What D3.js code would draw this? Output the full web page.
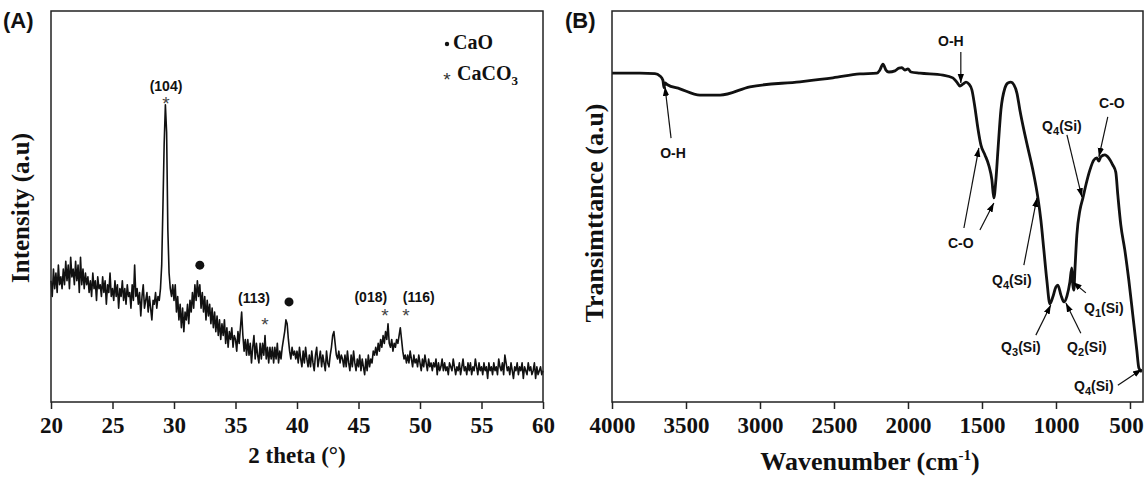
<!DOCTYPE html>
<html><head><meta charset="utf-8">
<script src="https://cdn.jsdelivr.net/npm/d3@7"></script>
<style>body{margin:0;background:#fff}</style>
</head><body>
<svg id="c" width="1146" height="480"></svg>
<script>
// ---------- DATA ----------
// XRD scan: 2-theta from 20 to 60 deg, evenly spaced
const xrdStart = 20, xrdEnd = 60;
const xrdIntensity = [
 31,27,34,29,33,28,35,30,32,29,
 34,30,36,31,35,29,37,32,34,30,
 36,31,35,28,37,30,34,29,33,30,
 32,28,31,27,33,29,31,26,32,29,
 30,27,32,28,31,25,30,28,33,27,
 29,26,31,27,30,24,29,27,31,26,
 29,25,30,27,28,24,30,26,35,27,
 29,25,28,22,27,30,24,26,28,23,
 27,24,21,26,25,28,24,27,26,29,
 35,50,66,76,69,44,33,29,27,30,
 26,30,23,27,21,25,19,24,18,23,
 21,25,20,26,23,28,24,30,26,31,
 27,30,24,28,23,27,21,26,22,25,
 20,24,19,23,18,22,17,21,16,20,
 17,21,15,19,14,18,16,19,14,17,
 16,13,18,15,19,23,17,13,16,12,
 16,12,15,10,14,17,11,15,12,10,
 15,11,15,12,17,11,14,10,14,11,
 14,10,14,11,15,10,13,11,14,16,
 18,21,20,16,13,11,14,12,13,11,
 13,10,14,11,9,13,10,14,11,9,
 12,9,13,10,8,12,14,9,11,13,
 9,12,10,8,13,10,9,12,14,17,
 18,15,12,11,13,10,12,11,9,12,
 9,13,10,8,12,9,13,10,8,11,
 9,12,8,11,9,7,11,8,12,9,
 11,10,13,12,14,12,15,13,16,14,
 17,15,18,16,20,15,14,16,13,15,
 14,16,15,17,19,16,13,11,12,10,
 12,10,13,11,9,12,10,11,9,12,
 10,8,11,9,12,10,8,11,9,10,
 8,10,9,11,7,10,8,9,11,8,
 10,8,9,7,10,9,8,11,9,7,
 9,8,10,7,9,11,8,9,7,10,
 8,10,7,9,8,11,9,7,10,8,
 9,7,10,8,9,6,10,8,9,7,
 10,8,9,7,11,9,8,10,7,12,
 10,8,9,7,10,8,6,9,8,10,
 7,9,8,10,6,9,8,7,10,8,
 9,7,8,10,6,9,7,8,9,7,
 8
];
const xrdTicks = [20,25,30,35,40,45,50,55,60];

// hkl labels (2theta, intensity)
const hklText  = ["(104)","(113)","(018)","(116)"];
const hklTheta = [29.35, 36.5, 46.0, 49.9];
const hklLevel = [80.8, 26.6, 26.9, 26.9];
// CaCO3 markers
const starTheta = [29.35, 37.4, 47.15, 48.85];
const starLevel = [77.6, 21.0, 23.3, 23.3];
// CaO markers
const dotTheta = [32.1, 39.35];
const dotLevel = [35.0, 25.6];

// FTIR spectrum
const ftirWavenumber = [4000,3811,3710,3676,3656,3649,3642,3628,3541,3406,3270,3068,2730,2507,2325,
 2210,2190,2169,2149,2129,2088,2061,2041,2021,2000,1980,1919,1764,1697,1670,1649,1629,1608,1588,1568,
 1548,1528,1507,1480,1453,1433,1420,1406,1392,1372,1345,1325,1305,1284,1264,1244,1217,1190,1156,1122,
 1102,1082,1062,1041,1021,1001,987,967,946,926,906,893,886,879,872,859,838,818,798,771,744,724,710,697,
 670,643,616,596,582,562,535,508,481,454,440,420];
const ftirTransmittance = [84.1,84.1,84.0,83.4,82.3,80.4,81.6,81.2,80.1,78.5,78.5,80.6,81.9,82.9,83.9,
 84.1,84.9,86.4,84.9,84.4,84.7,85.4,85.5,84.9,85.2,84.4,84.1,83.6,82.9,81.8,80.8,81.3,81.8,81.3,79.8,
 75.4,70.1,65.7,63.2,60.4,56.8,52.2,56.8,64.5,74.7,80.3,81.6,81.8,81.1,79.0,74.7,69.6,65.0,59.3,52.2,
 46.5,38.9,31.2,25.1,26.9,29.4,29.9,27.4,25.6,27.1,30.7,34.3,29.9,28.6,33.8,42.7,49.1,52.2,55.5,59.3,61.9,62.4,61.6,62.7,
 63.2,62.4,60.6,58.8,52.9,45.3,38.9,31.2,22.3,13.3,8.7,7.7];
const ftirTicks = [4000,3500,3000,2500,2000,1500,1000,500];

// FTIR annotations: label, label (w,T), arrows [tail w,T -> tip w,T]
const ftirNotes = [
 {label:"O-H", sub:null, lw:3588, lt:63.7, arrows:[[3601,67.5,3642,80.6]]},
 {label:"O-H", sub:null, lw:1710, lt:92.3, arrows:[[1643,89.5,1643,81.6]]},
 {label:"C-O", sub:null, lw:1643, lt:40.7, arrows:[[1622,44.5,1521,65.0],[1514,44.0,1420,50.9]]},
 {label:"Q", sub:"4", lw:1298, lt:31.2, arrows:[[1217,35.0,1129,52.2]]},
 {label:"Q", sub:"3", lw:1237, lt:14.1, arrows:[[1136,17.1,1035,24.8]]},
 {label:"Q", sub:"2", lw:791, lt:14.1, arrows:[[832,17.6,933,25.3]]},
 {label:"Q", sub:"1", lw:677, lt:24.0, arrows:[[798,27.9,886,30.7]]},
 {label:"Q", sub:"4", lw:744, lt:4.1, arrows:[[582,4.3,420,8.4]]},
 {label:"Q", sub:"4", lw:960, lt:70.6, arrows:[[926,68.3,825,52.4]]},
 {label:"C-O", sub:null, lw:622, lt:76.5, arrows:[[650,72.9,710,62.7]]}
];

// ---------- DRAW ----------
const svg = d3.select("#c");
const serif = "'Liberation Serif','Times New Roman',serif";
const sans = "'Liberation Sans',Arial,sans-serif";
const yTop = 11, yBot = 402;

svg.append("defs").append("marker")
  .attr("id","ah").attr("viewBox","0 0 10 10").attr("refX",10).attr("refY",5)
  .attr("markerWidth",9).attr("markerHeight",9).attr("markerUnits","userSpaceOnUse")
  .attr("orient","auto")
  .append("path").attr("d","M0,1.5 L10,5 L0,8.5 Z").attr("fill","#000");

// ----- Panel A -----
const xA = d3.scaleLinear().domain([xrdStart, xrdEnd]).range([51, 543]);
const yA = d3.scaleLinear().domain([0, 100]).range([yBot, yTop]);
const nA = xrdIntensity.length;
const xrdTheta = xrdIntensity.map((d,i) => xrdStart + i*(xrdEnd - xrdStart)/(nA-1));

const gA = svg.append("g");
gA.append("path")
  .datum(xrdIntensity)
  .attr("fill","none").attr("stroke","#111").attr("stroke-width",1.6).attr("stroke-linejoin","round")
  .attr("d", d3.line().x((d,i)=>xA(xrdTheta[i])).y(d=>yA(d)));

gA.append("rect").attr("x",xA.range()[0]).attr("y",yTop)
  .attr("width",xA.range()[1]-xA.range()[0]).attr("height",yBot-yTop)
  .attr("fill","none").attr("stroke","#222").attr("stroke-width",1.5);

const axA = gA.append("g").attr("transform",`translate(0,${yBot})`)
  .call(d3.axisBottom(xA).tickValues(xrdTicks).tickSize(7).tickPadding(8).tickFormat(d3.format("d")))
  .attr("font-family",serif).attr("font-size",23).attr("font-weight","bold");
axA.select(".domain").remove();
axA.selectAll("line").attr("stroke","#222").attr("stroke-width",1.5);
axA.selectAll("text").attr("fill","#111");

gA.append("text").attr("x",297).attr("y",463).attr("text-anchor","middle")
  .attr("font-family",serif).attr("font-weight","bold").attr("font-size",23).attr("fill","#111")
  .text("2 theta (°)");
gA.append("text").attr("transform","translate(29,208) rotate(-90)").attr("text-anchor","middle")
  .attr("font-family",serif).attr("font-weight","bold").attr("font-size",25).attr("fill","#111")
  .text("Intensity (a.u)");
gA.append("text").attr("x",3).attr("y",28)
  .attr("font-family",sans).attr("font-weight","bold").attr("font-size",22).attr("fill","#111").text("(A)");

hklText.forEach((t,i)=>{
  gA.append("text").attr("x",xA(hklTheta[i])).attr("y",yA(hklLevel[i])).attr("dy","0.35em")
    .attr("text-anchor","middle").attr("font-family",sans).attr("font-weight","bold")
    .attr("font-size",14).attr("fill","#111").text(t);
});
starTheta.forEach((t,i)=>{
  gA.append("text").attr("x",xA(t)).attr("y",yA(starLevel[i])).attr("dy","0.6em")
    .attr("text-anchor","middle").attr("font-family",sans).attr("font-size",19).attr("fill","#444").text("*");
});
dotTheta.forEach((t,i)=>{
  gA.append("circle").attr("cx",xA(t)).attr("cy",yA(dotLevel[i])).attr("r",4.5).attr("fill","#111");
});
// legend
gA.append("circle").attr("cx",447).attr("cy",44).attr("r",2.2).attr("fill","#111");
gA.append("text").attr("x",453).attr("y",49).attr("font-family",serif).attr("font-weight","bold")
  .attr("font-size",20).attr("fill","#111").text("CaO");
gA.append("text").attr("x",447).attr("y",75).attr("dy","0.6em").attr("text-anchor","middle")
  .attr("font-family",sans).attr("font-size",19).attr("fill","#333").text("*");
const lg = gA.append("text").attr("x",457).attr("y",80).attr("font-family",serif).attr("font-weight","bold")
  .attr("font-size",20).attr("fill","#111");
lg.append("tspan").text("CaCO");
lg.append("tspan").attr("font-size",13).attr("dy",5).text("3");

// ----- Panel B -----
const xB = d3.scaleLinear().domain([4000, 412]).range([612, 1143]);
const yB = d3.scaleLinear().domain([0, 100]).range([yBot, yTop]);
const gB = svg.append("g");

gB.append("path")
  .datum(ftirWavenumber.map((w,i)=>[w, ftirTransmittance[i]]))
  .attr("fill","none").attr("stroke","#111").attr("stroke-width",2.8).attr("stroke-linejoin","round")
  .attr("d", d3.line().x(d=>xB(d[0])).y(d=>yB(d[1])).curve(d3.curveMonotoneX));

gB.append("rect").attr("x",xB.range()[0]).attr("y",yTop)
  .attr("width",xB.range()[1]-xB.range()[0]).attr("height",yBot-yTop)
  .attr("fill","none").attr("stroke","#222").attr("stroke-width",1.5);

const axB = gB.append("g").attr("transform",`translate(0,${yBot})`)
  .call(d3.axisBottom(xB).tickValues(ftirTicks).tickSize(7).tickPadding(8).tickFormat(d3.format("d")))
  .attr("font-family",serif).attr("font-size",23).attr("font-weight","bold");
axB.select(".domain").remove();
axB.selectAll("line").attr("stroke","#222").attr("stroke-width",1.5);
axB.selectAll("text").attr("fill","#111");
axB.selectAll(".tick").filter(d => d === 500).select("text").attr("dx", -4);

const xl = gB.append("text").attr("x",870).attr("y",470).attr("text-anchor","middle")
  .attr("font-family",serif).attr("font-weight","bold").attr("font-size",26).attr("fill","#111");
xl.append("tspan").text("Wavenumber (cm");
xl.append("tspan").attr("font-size",15).attr("dy",-10).text("-1");
xl.append("tspan").attr("dy",10).text(")");
gB.append("text").attr("transform","translate(603,213) rotate(-90)").attr("text-anchor","middle")
  .attr("font-family",serif).attr("font-weight","bold").attr("font-size",26).attr("fill","#111")
  .text("Transimttance (a.u)");
gB.append("text").attr("x",565).attr("y",28)
  .attr("font-family",sans).attr("font-weight","bold").attr("font-size",22).attr("fill","#111").text("(B)");

ftirNotes.forEach(n=>{
  n.arrows.forEach(a=>{
    gB.append("line").attr("x1",xB(a[0])).attr("y1",yB(a[1])).attr("x2",xB(a[2])).attr("y2",yB(a[3]))
      .attr("stroke","#111").attr("stroke-width",1.2).attr("marker-end","url(#ah)");
  });
  const t = gB.append("text").attr("x",xB(n.lw)).attr("y",yB(n.lt)).attr("dy","0.35em")
    .attr("text-anchor","middle").attr("font-family",sans).attr("font-weight","bold")
    .attr("font-size",14).attr("fill","#111");
  if (n.sub) {
    t.append("tspan").text(n.label);
    t.append("tspan").attr("font-size",11).attr("dy",4).text(n.sub);
    t.append("tspan").attr("dy",-4).text("(Si)");
  } else t.text(n.label);
});
</script>
</body></html>
